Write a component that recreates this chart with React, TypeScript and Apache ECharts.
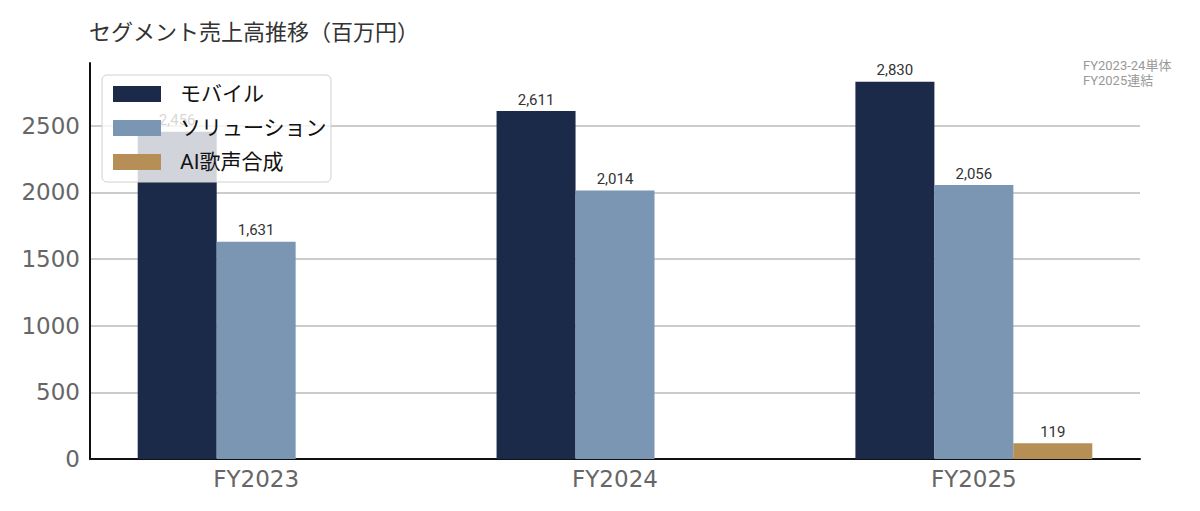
import React, { useEffect, useRef } from "react";
import * as echarts from "echarts";

const categories = ["FY2023", "FY2024", "FY2025"];
const seriesNames = ["モバイル", "ソリューション", "AI歌声合成"];
const mobile = [2456, 2611, 2830];
const solution = [1631, 2014, 2056];
const aiVoice = [null, null, 119];
const colors = ["#1c2a4a", "#7b96b2", "#b58f55"];
const yTicks = [0, 500, 1000, 1500, 2000, 2500];
const title = "セグメント売上高推移（百万円）";
const note = "FY2023-24単体\nFY2025連結";

const BAR_W = 0.22;
const FONT = "Roboto, 'Noto Sans CJK JP', sans-serif";
const AXFONT = "'DejaVu Sans', sans-serif";

export default function App() {
  const ref = useRef<HTMLDivElement>(null);
  useEffect(() => {
    const chart = echarts.init(ref.current!, null, { renderer: "svg" });
    const all = [mobile, solution, aiVoice];
    const maxV = Math.max(...mobile, ...solution, 119);
    const series = all.map((arr, si) => ({
      name: seriesNames[si],
      type: "bar",
      barWidth: 79,
      barGap: "-100%",
      itemStyle: { color: colors[si] },
      label: {
        show: true,
        position: "top",
        distance: 4,
        color: "#333",
        fontSize: 15,
        fontFamily: FONT,
        formatter: (p: any) => Number(p.value[1]).toLocaleString("en-US"),
      },
      data: arr
        .map((v, i) => (v == null ? null : [i + (si - 1) * BAR_W, v]))
        .filter((d) => d != null),
    }));
    chart.setOption({
      animation: false,
      title: {
        text: title,
        left: 84,
        top: 14,
        textStyle: { fontSize: 22, fontWeight: "normal", color: "#333", fontFamily: "'Noto Sans CJK JP', sans-serif" },
      },
      graphic: [
        {
          type: "text",
          left: 1083,
          top: 58,
          style: { text: note, fontSize: 13, lineHeight: 15, fill: "#999", fontFamily: FONT },
        },
      ],
      legend: {
        orient: "vertical",
        left: 102,
        top: 75,
        padding: [7, 4, 8, 11],
        itemWidth: 48,
        itemHeight: 16,
        itemGap: 10,
        icon: "rect",
        backgroundColor: "rgba(255,255,255,0.8)",
        borderColor: "#d0d0d0",
        borderWidth: 1,
        borderRadius: 5,
        textStyle: { fontSize: 21, lineHeight: 24, color: "#111", padding: [0, 0, 0, 14], fontFamily: FONT },
        data: seriesNames,
        z: 10,
      },
      grid: { left: 90, right: 60, top: 63, bottom: 52 },
      xAxis: {
        type: "value",
        min: -0.463,
        max: 2.463,
        splitLine: { show: false },
        axisLine: { show: true, onZero: false, lineStyle: { color: "#111", width: 2 } },
        axisTick: { show: false },
        axisLabel: {
          customValues: [0, 1, 2],
          formatter: (v: number) => categories[Math.round(v)] ?? "",
          fontSize: 23,
          color: "#666",
          margin: 8,
          fontFamily: AXFONT,
        },
      },
      yAxis: {
        type: "value",
        min: 0,
        max: maxV * 1.05,
        interval: 500,
        axisLine: { show: true, onZero: false, lineStyle: { color: "#111", width: 2 } },
        axisTick: { show: false },
        splitLine: { show: true, showMaxLine: false, showMinLine: false, lineStyle: { color: "#bbb", width: 1.5 } },
        axisLabel: {
          customValues: yTicks,
          formatter: (v: number) => String(v),
          fontSize: 23,
          color: "#666",
          margin: 10,
          fontFamily: AXFONT,
        },
      },
      series,
    });
    return () => chart.dispose();
  }, []);
  return <div ref={ref} style={{ width: 1200, height: 511, margin: -8 }} />;
}
